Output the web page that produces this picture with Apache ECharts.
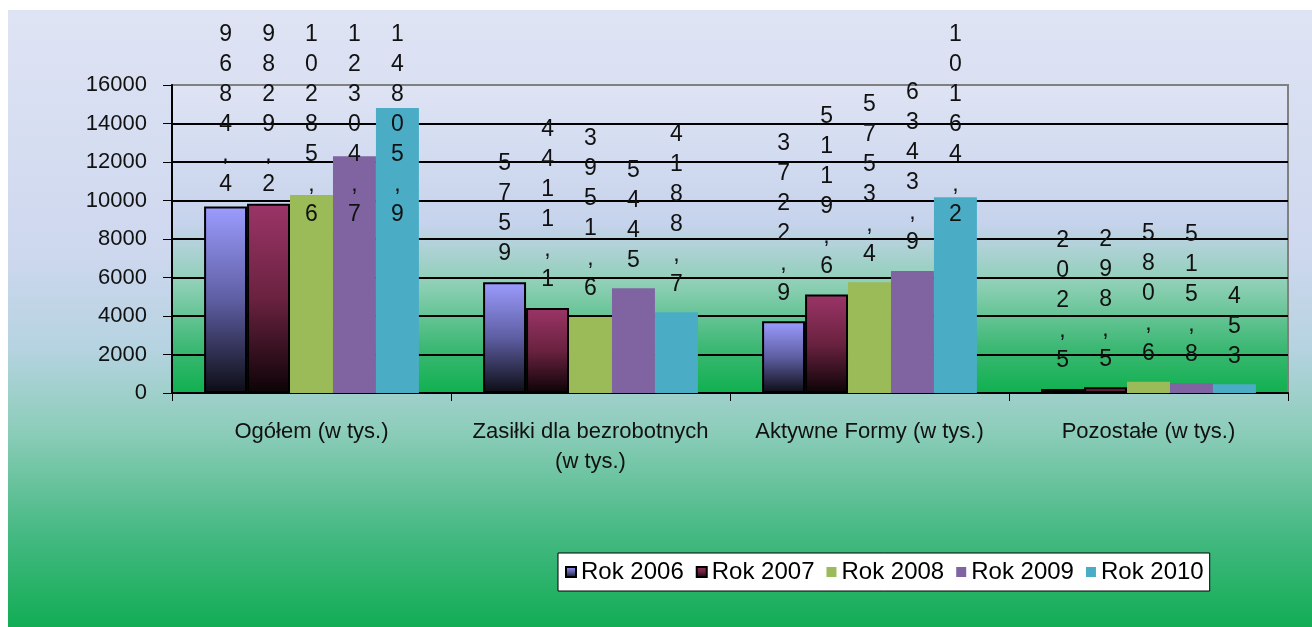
<!DOCTYPE html>
<html>
	<head>
		<meta charset="utf-8">
		<title>Wydatki</title>
		<style type="text/css">
			html, body {
				margin: 0;
				padding: 0;
				background: #ffffff;
			}
			#main {
				width: 1312px;
				height: 627px;
			}
		</style>
	</head>
	<body>
		<div id="main"></div>
		<script src="https://cdn.jsdelivr.net/npm/echarts@6.0.0/dist/echarts.min.js" type="text/javascript"></script>
		<script type="text/javascript">
			var categories = ['Ogółem (w tys.)', 'Zasiłki dla bezrobotnych\n(w tys.)', 'Aktywne Formy (w tys.)', 'Pozostałe (w tys.)'];
			var years = ['Rok 2006', 'Rok 2007', 'Rok 2008', 'Rok 2009', 'Rok 2010'];

			var rok2006 = [9684.4, 5759, 3722.9, 202.5];
			var rok2007 = [9829.2, 4411.1, 5119.6, 298.5];
			var rok2008 = [10285.6, 3951.6, 5753.4, 580.6];
			var rok2009 = [12304.7, 5445, 6343.9, 515.8];
			var rok2010 = [14805.9, 4188.7, 10164.2, 453];

			var font = 'Liberation Sans, Arial, sans-serif';

			function grad(stops) {
				return new echarts.graphic.LinearGradient(0, 0, 0, 1, stops);
			}

			var fills = [
				grad([{offset: 0, color: '#9c9cff'}, {offset: 0.5, color: '#5e5ea3'}, {offset: 1, color: '#0c0c14'}]),
				grad([{offset: 0, color: '#9b3567'}, {offset: 0.5, color: '#6a2240'}, {offset: 1, color: '#0c0306'}]),
				'#9bbb59',
				'#8064a2',
				'#4bacc6'
			];
			var borders = [2, 2, 0, 0, 0];

			var myChart = echarts.init(document.getElementById('main'));

			var series = [rok2006, rok2007, rok2008, rok2009, rok2010].map(function(vals, i) {
				return {
					name: years[i],
					type: 'bar',
					data: vals,
					barGap: '0%',
					barCategoryGap: '23%',
					itemStyle: {
						color: fills[i],
						borderColor: '#000000',
						borderWidth: borders[i]
					},
					label: {
						show: true,
						position: 'top',
						distance: 13,
						fontFamily: font,
						fontSize: 23,
						lineHeight: 30,
						color: '#111111',
						formatter: function(p) {
							return String(p.value).replace('.', ',').split('').join('\n');
						}
					},
					labelLayout: function(p) {
						// etykiety nie wychodza poza gorna krawedz
						if (p.labelRect.y < 20) {
							return {dy: 20 - p.labelRect.y};
						}
						return {};
					}
				};
			});

			var splitColors = ['#000', '#000', '#000', '#000', '#000', '#000', '#000', '#000', '#808080'];

			option = {
				animation: false,
				textStyle: {
					fontFamily: font
				},
				graphic: [{
					type: 'rect',
					z: -100,
					silent: true,
					shape: {x: 8, y: 10, width: 1304, height: 617},
					style: {
						fill: grad([
							{offset: 0, color: '#dfe4f4'},
							{offset: 0.4, color: '#cdd7ee'},
							{offset: 0.55, color: '#b5d3e0'},
							{offset: 0.68, color: '#8dcdba'},
							{offset: 0.85, color: '#45b982'},
							{offset: 1, color: '#12ad55'}
						])
					}
				}],
				grid: {
					left: 172,
					top: 85,
					right: 24,
					bottom: 234,
					show: true,
					borderColor: '#808080',
					borderWidth: 2,
					backgroundColor: grad([
						{offset: 0, color: '#dfe4f4'},
						{offset: 0.45, color: '#c6d3ec'},
						{offset: 0.65, color: '#8ccfb4'},
						{offset: 0.85, color: '#3db874'},
						{offset: 1, color: '#0fb04f'}
					])
				},
				legend: {
					data: years,
					left: 558,
					top: 553,
					backgroundColor: '#ffffff',
					borderColor: '#000000',
					borderWidth: 1,
					borderRadius: 0,
					padding: [7, 6, 7, 7],
					itemWidth: 10,
					itemHeight: 10,
					itemGap: 12,
					icon: 'rect',
					textStyle: {
						fontFamily: font,
						fontSize: 24,
						color: '#000000'
					}
				},
				xAxis: {
					type: 'category',
					data: categories,
					axisLine: {
						lineStyle: {color: '#000000', width: 2}
					},
					axisTick: {
						show: true,
						length: 8,
						lineStyle: {color: '#000000'}
					},
					axisLabel: {
						margin: 24,
						fontFamily: font,
						fontSize: 22,
						lineHeight: 30,
						color: '#111111',
						interval: 0
					}
				},
				yAxis: {
					type: 'value',
					min: 0,
					max: 16000,
					interval: 2000,
					axisLine: {
						show: true,
						lineStyle: {color: '#000000', width: 2}
					},
					axisTick: {
						show: true,
						length: 9,
						lineStyle: {color: '#000000'}
					},
					axisLabel: {
						margin: 25,
						fontFamily: font,
						fontSize: 22,
						color: '#111111',
						formatter: function(v) {
							return String(v);
						}
					},
					splitLine: {
						show: true,
						lineStyle: {color: splitColors, width: 2}
					}
				},
				series: series
			};
			myChart.setOption(option);
		</script>
	</body>
</html>
